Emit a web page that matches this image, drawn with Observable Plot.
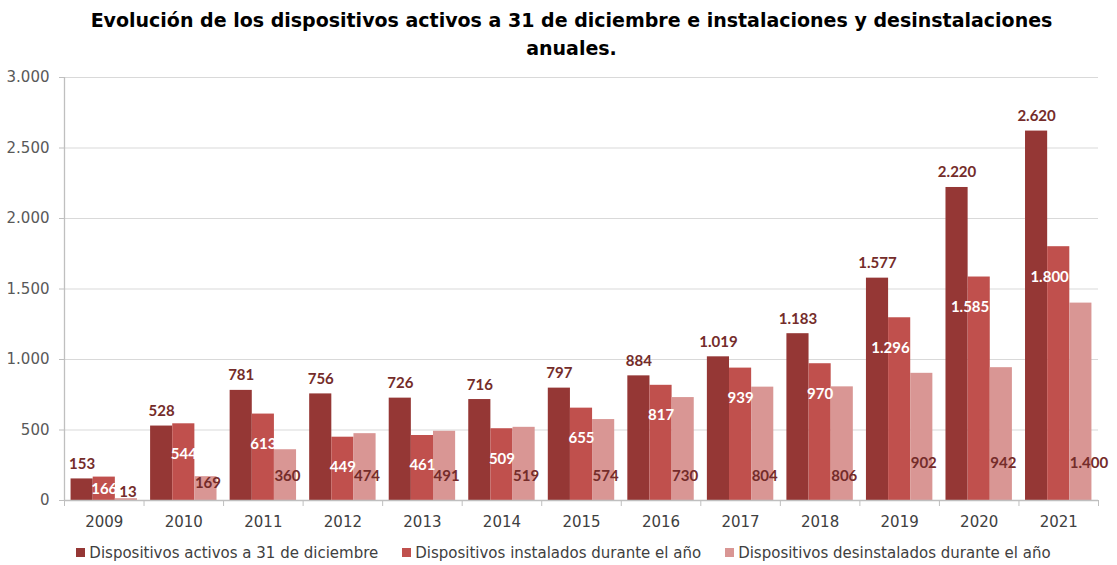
<!DOCTYPE html>
<html>
<head>
<meta charset="utf-8">
<script src="https://cdn.jsdelivr.net/npm/d3@7"></script>
<script src="https://cdn.jsdelivr.net/npm/@observablehq/plot@0.6"></script>
<style>
  html, body { margin: 0; padding: 0; background: #fff; }
  body { width: 1117px; height: 565px; overflow: hidden; font-family: "DejaVu Sans", sans-serif; }
  #title { height: 64px; box-sizing: border-box; padding: 6px 0 0 26px; text-align: center;
           font: bold 19px/28px "DejaVu Sans", sans-serif; color: #000; }
  #chart svg { display: block; }
  #legend { height: 31px; display: flex; align-items: center; justify-content: center; gap: 24px;
            padding: 6px 0 0 10px; box-sizing: border-box; font: 15px "DejaVu Sans", sans-serif; color: #404040; }
  #legend .item { display: flex; align-items: center; gap: 4px; }
  #legend .sw { width: 9px; height: 9px; display: inline-block; }
</style>
</head>
<body>
<div id="title">Evolución de los dispositivos activos a 31 de diciembre e instalaciones y desinstalaciones<br>anuales.</div>
<div id="chart"></div>
<div id="legend"></div>
<script>
const years = [2009, 2010, 2011, 2012, 2013, 2014, 2015, 2016, 2017, 2018, 2019, 2020, 2021];
const activos = [153, 528, 781, 756, 726, 716, 797, 884, 1019, 1183, 1577, 2220, 2620];
const instalados = [166, 544, 613, 449, 461, 509, 655, 817, 939, 970, 1296, 1585, 1800];
const desinstalados = [13, 169, 360, 474, 491, 519, 574, 730, 804, 806, 902, 942, 1400];
const seriesNames = ["Dispositivos activos a 31 de diciembre", "Dispositivos instalados durante el año", "Dispositivos desinstalados durante el año"];
const colors = ["#953735", "#c0504d", "#d99694"];
const yTicks = [0, 500, 1000, 1500, 2000, 2500, 3000];

const fmt = d3.formatLocale({decimal: ",", thousands: ".", grouping: [3], currency: ["", ""]}).format(",d");

const seriesValues = [activos, instalados, desinstalados];
// group geometry in data units (year band = 1)
const pad = 0.165, sub = (1 - pad) / 3;
const data = [];
seriesValues.forEach((vals, s) => vals.forEach((v, i) => {
  const x1 = years[i] - 0.5 + pad / 2 + s * sub;
  data.push({year: years[i], s, v, x1, x2: x1 + sub, xc: x1 + sub / 2});
}));
const bounds = years.map(y => y - 0.5).concat([years[years.length - 1] + 0.5]);
const pxPerUnit = (436 - 13) / 3000;

const labelFont = {fontFamily: "Lato, sans-serif", fontWeight: "bold", fontSize: 15};
const darkText = "#742c2a";
const inst = data.filter(d => d.s === 1);
const desi = data.filter(d => d.s === 2);
const instY = d => Math.max(d.v - 30 / pxPerUnit, d.v / 2);

const plot = Plot.plot({
  width: 1117,
  height: 470,
  marginTop: 13,
  marginBottom: 34,
  marginLeft: 64,
  marginRight: 19,
  x: {type: "linear", domain: [bounds[0], bounds[bounds.length - 1]], label: null},
  y: {domain: [0, 3000], label: null},
  color: {domain: [0, 1, 2], range: colors},
  style: {fontFamily: "DejaVu Sans, sans-serif", fontSize: "15px", color: "#595959"},
  marks: [
    Plot.gridY(yTicks, {stroke: "#d9d9d9", strokeOpacity: 1}),
    Plot.rectY(data, {x1: "x1", x2: "x2", y1: 0, y2: "v", fill: d => d.s}),
    Plot.ruleY([0], {stroke: "#bfbfbf", strokeWidth: 1.3}),
    Plot.ruleX([bounds[0]], {stroke: "#bfbfbf", strokeWidth: 1.3}),
    Plot.axisY(yTicks, {tickFormat: fmt, tickSize: 5, tickPadding: 10, stroke: "#bfbfbf", fill: "#595959", fontSize: 15, label: null}),
    Plot.axisX(bounds, {tickFormat: () => "", tickSize: 6, stroke: "#bfbfbf", label: null}),
    Plot.axisX(years, {tickFormat: d => String(d), tickSize: 0, tickPadding: 16, fill: "#404040", fontSize: 15, label: null}),
    // activos labels above bars
    Plot.text(data.filter(d => d.s === 0), {x: "xc", y: "v", text: d => fmt(d.v), lineAnchor: "bottom", dy: -10,
      fill: darkText, ...labelFont}),
    // instalados labels inside end (white)
    Plot.text(inst.filter(d => d.v < 1000), {x: "xc", y: instY, text: d => fmt(d.v), fill: "white", ...labelFont}),
    Plot.text(inst.filter(d => d.v >= 1000), {x: "x2", y: instY, text: d => fmt(d.v), textAnchor: "end", dx: -1,
      fill: "white", ...labelFont}),
    // desinstalados labels near base
    Plot.text(desi.filter(d => d.v >= 100), {x: "x1", textAnchor: "start", dx: 0,
      y: d => d.v > 850 ? 265 : Math.min(Math.max(d.v / 2, 125), 170), text: d => fmt(d.v),
      fill: darkText, ...labelFont}),
    Plot.text(desi.filter(d => d.v < 100), {x: "x1", y: "v", text: d => fmt(d.v), textAnchor: "start", lineAnchor: "bottom", dy: -2, dx: 4,
      fill: darkText, ...labelFont})
  ]
});
document.getElementById("chart").appendChild(plot);

const legend = document.getElementById("legend");
seriesNames.forEach((name, i) => {
  const item = document.createElement("div");
  item.className = "item";
  const sw = document.createElement("span");
  sw.className = "sw";
  sw.style.background = colors[i];
  const label = document.createElement("span");
  label.textContent = name;
  item.appendChild(sw);
  item.appendChild(label);
  legend.appendChild(item);
});
</script>
</body>
</html>
